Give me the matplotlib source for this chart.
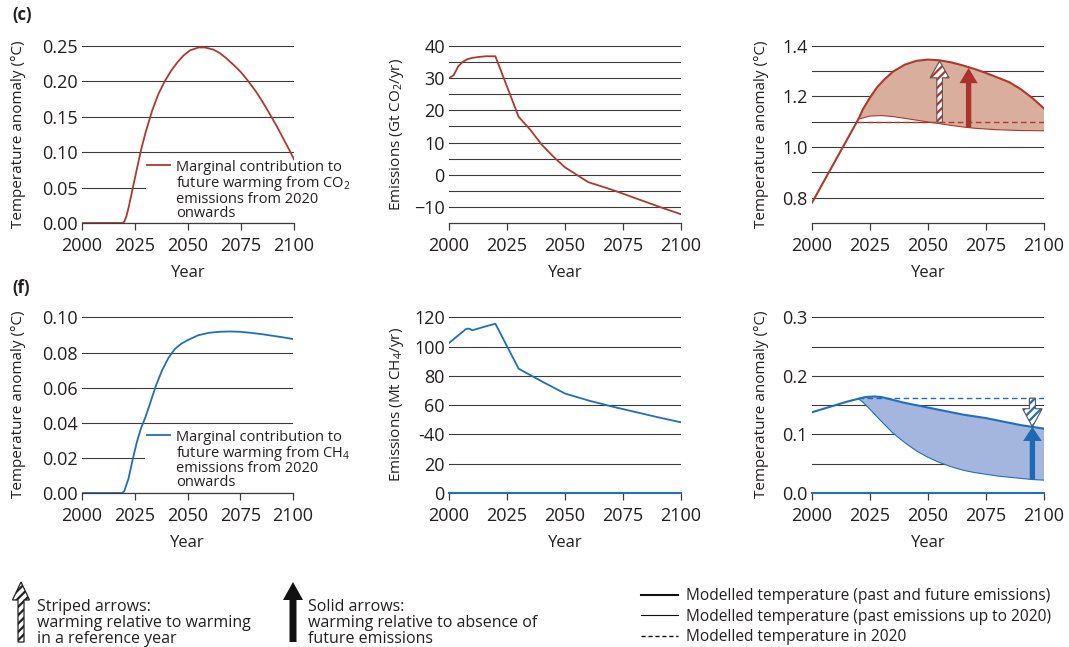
import numpy as np
import matplotlib
matplotlib.use('Agg')
import matplotlib.pyplot as plt
from matplotlib.patches import FancyArrow
from matplotlib.lines import Line2D

plt.rcParams['font.family'] = ['Open Sans', 'DejaVu Sans']
plt.rcParams['mathtext.default'] = 'regular'
plt.rcParams['hatch.linewidth'] = 1.6

# ---- data ----
year_ticks = [2000, 2025, 2050, 2075, 2100]

# (c) CO2
co2_marg_years = [2000, 2019, 2020, 2021, 2022, 2024, 2026, 2028, 2030, 2033, 2036, 2039, 2042,
                  2045, 2048, 2051, 2055, 2058, 2062, 2065, 2068, 2072, 2075, 2078, 2082, 2085,
                  2088, 2092, 2095, 2098, 2100]
co2_marg = [0, 0, 0.002, 0.01, 0.022, 0.05, 0.078, 0.105, 0.128, 0.158, 0.182, 0.200, 0.215,
            0.227, 0.237, 0.244, 0.248, 0.248, 0.245, 0.24, 0.233, 0.222, 0.213, 0.202, 0.186,
            0.172, 0.157, 0.136, 0.119, 0.102, 0.09]

co2_em_years = [2000, 2002, 2003, 2004, 2006, 2008, 2010, 2013, 2016, 2020,
                2030, 2035, 2040, 2045, 2050, 2055, 2060, 2070, 2080, 2090, 2100]
co2_em = [30, 30.9, 32.3, 33.7, 35.1, 35.9, 36.3, 36.6, 36.8, 36.8,
          18, 14, 9.3, 5.6, 2.3, 0, -2.3, -4.6, -7.2, -9.8, -12.3]

co2_temp_years = [2000, 2020, 2022, 2025, 2028, 2031, 2035, 2040, 2045, 2050, 2055, 2060,
                  2065, 2070, 2075, 2080, 2085, 2090, 2095, 2100]
co2_temp_all = [0.78, 1.11, 1.15, 1.195, 1.235, 1.265, 1.298, 1.325, 1.34, 1.345, 1.342, 1.334,
                1.322, 1.308, 1.292, 1.274, 1.256, 1.228, 1.193, 1.152]
co2_past_years = [2020, 2025, 2030, 2035, 2040, 2045, 2050, 2055, 2060, 2065, 2070, 2080, 2090, 2100]
co2_temp_past = [1.11, 1.122, 1.124, 1.12, 1.113, 1.106, 1.099, 1.092, 1.085, 1.079, 1.074,
                 1.068, 1.065, 1.064]
co2_temp_2020 = 1.098

# (f) CH4
ch4_marg_years = [2000, 2019, 2020, 2022, 2024, 2026, 2028, 2030, 2032, 2035, 2038, 2041, 2044,
                  2047, 2050, 2055, 2060, 2065, 2070, 2075, 2080, 2085, 2090, 2095, 2100]
ch4_marg = [0, 0, 0.001, 0.008, 0.019, 0.029, 0.037, 0.043, 0.05, 0.061, 0.07, 0.077, 0.082,
            0.085, 0.087, 0.0898, 0.0912, 0.0918, 0.092, 0.0918, 0.0912, 0.0905, 0.0896, 0.0887, 0.0877]

ch4_em_years = [2000, 2003, 2006, 2007, 2008, 2009, 2010, 2013, 2016, 2020,
                2030, 2040, 2050, 2060, 2070, 2080, 2090, 2100]
ch4_em = [102.5, 106.5, 110.3, 111.8, 112.4, 112.2, 111.2, 112.6, 114.0, 115.7,
          85, 76.3, 68, 63.3, 59.2, 55.5, 51.8, 48.3]
ch4_em_labels = ['0', '20', '-40', '60', '80', '100', '120']

ch4_temp_years = [2000, 2005, 2010, 2015, 2020, 2023, 2027, 2030, 2035, 2040, 2045, 2050, 2055,
                  2060, 2065, 2070, 2075, 2080, 2085, 2090, 2095, 2100]
ch4_temp_all = [0.138, 0.144, 0.15, 0.156, 0.161, 0.164, 0.165, 0.164, 0.159, 0.154, 0.15, 0.146,
                0.142, 0.138, 0.134, 0.131, 0.128, 0.124, 0.12, 0.116, 0.113, 0.110]
ch4_past_years = [2020, 2022, 2025, 2030, 2035, 2040, 2045, 2050, 2055, 2060, 2065, 2070, 2075,
                  2080, 2085, 2090, 2095, 2100]
ch4_temp_past = [0.161, 0.155, 0.143, 0.122, 0.102, 0.086, 0.072, 0.061, 0.052, 0.045, 0.039,
                 0.035, 0.032, 0.029, 0.027, 0.025, 0.023, 0.022]
ch4_temp_2020 = 0.162

# ---- style ----
RED = '#b0382d'
RED_FILL = '#d9ae9d'
RED_ARROW = '#a9332a'
BLUE = '#1e6fbe'
BLUE_FILL = '#a5b6de'
BLUE_ARROW = '#1c6ab5'
GRID = '#3c3c3c'
TXT = '#231f20'
W, H = 1069, 647

fig = plt.figure(figsize=(W / 100, H / 100), dpi=100)


def px_axes(x0, x1, ytop, ybot):
    return fig.add_axes([x0 / W, 1 - ybot / H, (x1 - x0) / W, (ybot - ytop) / H])


def style(ax, ylim, major, minor=None, labels=None, ylabel='', lab_x=-0.185):
    ax.set_xlim(2000, 2100)
    ax.set_ylim(*ylim)
    ax.set_xticks(year_ticks)
    ax.set_yticks(major)
    if labels is not None:
        ax.set_yticklabels(labels)
    if minor is not None:
        ax.set_yticks(minor, minor=True)
    ax.grid(axis='y', which='both', color=GRID, lw=0.8)
    ax.set_axisbelow(True)
    for s in ['left', 'right', 'top']:
        ax.spines[s].set_visible(False)
    ax.spines['bottom'].set_color(GRID)
    ax.spines['bottom'].set_linewidth(0.9)
    ax.spines['bottom'].set_zorder(6)
    ax.tick_params(axis='y', which='both', length=0, pad=3, labelsize=13, labelcolor=TXT)
    ax.tick_params(axis='x', length=5, width=0.9, pad=5, labelsize=13, color=GRID, labelcolor=TXT)
    ax.set_xlabel('Year', fontsize=12, labelpad=7, color=TXT)
    ax.set_ylabel(ylabel, fontsize=11, color=TXT)
    ax.yaxis.set_label_coords(lab_x, 0.5)


def solid_arrow(ax, x, y0, y1, w, hw, hl, color):
    ax.add_patch(FancyArrow(x, y0, 0, y1 - y0, width=w, head_width=hw, head_length=hl,
                            length_includes_head=True, color=color, lw=0, zorder=4))


def striped_arrow(ax, x, y0, y1, w, hw, hl, color, edge):
    kw = dict(width=w, head_width=hw, head_length=hl, length_includes_head=True, zorder=4)
    ax.add_patch(FancyArrow(x, y0, 0, y1 - y0, facecolor='white', edgecolor=color,
                            hatch='////', lw=0, **kw))
    ax.add_patch(FancyArrow(x, y0, 0, y1 - y0, fill=False, edgecolor=edge, lw=0.8, **kw))


def marg_legend(ax, line, label, top):
    leg = ax.legend([line], [label], loc='upper left', bbox_to_anchor=(0.3, top),
                    fontsize=10.5, frameon=True, fancybox=False, edgecolor='none',
                    facecolor='white', framealpha=1, borderpad=0.1, handlelength=1.6,
                    handletextpad=0.4, borderaxespad=0)
    leg.set_zorder(2.4)
    for t in leg.get_texts():
        t.set_linespacing(0.9)
        t.set_color(TXT)
    try:
        for hp in leg._legend_handle_box.get_children():
            for c in hp.get_children():
                c.align = 'top'
    except AttributeError:
        pass


# overlay for bottom key (pixel coordinates)
key = fig.add_axes([0, 0, 1, 1])
key.set_xlim(0, W)
key.set_ylim(H, 0)
key.axis('off')

# ---- (c) row ----
ax = px_axes(82, 294, 45, 223)
style(ax, (0, 0.2515), [0, 0.05, 0.10, 0.15, 0.20, 0.25],
      labels=['0.00', '0.05', '0.10', '0.15', '0.20', '0.25'],
      ylabel='Temperature anomaly (°C)', lab_x=-0.264)
l, = ax.plot(co2_marg_years, co2_marg, color=RED, lw=1.3, zorder=3)
marg_legend(ax, l, 'Marginal contribution to\nfuture warming from CO$_2$\nemissions from 2020\nonwards',
            0.362)

ax = px_axes(449, 681, 45, 223)
style(ax, (-15, 40.3), np.arange(-10, 41, 10), minor=np.arange(-5, 36, 10),
      ylabel='Emissions (Gt CO$_2$/yr)')
ax.plot(co2_em_years, co2_em, color=RED, lw=1.3)

ax = px_axes(812, 1044, 45, 223)
style(ax, (0.7, 1.4025), [0.8, 1.0, 1.2, 1.4], minor=[0.9, 1.1, 1.3],
      labels=['0.8', '1.0', '1.2', '1.4'], ylabel='Temperature anomaly (°C)')
t_years = np.array(co2_temp_years)
t_all = np.array(co2_temp_all)
fut = t_years >= 2020
ax.fill(np.r_[t_years[fut], co2_past_years[::-1]], np.r_[t_all[fut], co2_temp_past[::-1]],
        color=RED_FILL, lw=0, zorder=2)
ax.plot(co2_past_years, co2_temp_past, color=RED, lw=0.8, zorder=3)
ax.plot([2020, 2100], [co2_temp_2020, co2_temp_2020], color=RED, lw=1, ls=(0, (4, 2.5)), zorder=3)
ax.plot(co2_temp_years, co2_temp_all, color=RED, lw=1.5, zorder=3)
xa = 2055
striped_arrow(ax, xa, co2_temp_2020, np.interp(xa, co2_temp_years, co2_temp_all) - 0.003,
              2.4, 8.2, 0.066, RED, '#555555')
xb = 2067.5
solid_arrow(ax, xb, np.interp(xb, co2_past_years, co2_temp_past),
            np.interp(xb, co2_temp_years, co2_temp_all) - 0.003, 2.3, 7.8, 0.06, RED_ARROW)

# ---- (f) row ----
ax = px_axes(82, 293, 316, 493)
style(ax, (0, 0.1008), [0, 0.02, 0.04, 0.06, 0.08, 0.10],
      labels=['0.00', '0.02', '0.04', '0.06', '0.08', '0.10'],
      ylabel='Temperature anomaly (°C)', lab_x=-0.266)
l, = ax.plot(ch4_marg_years, ch4_marg, color=BLUE, lw=1.3, zorder=3)
marg_legend(ax, l, 'Marginal contribution to\nfuture warming from CH$_4$\nemissions from 2020\nonwards',
            0.365)

ax = px_axes(449, 681, 316, 493)
style(ax, (0, 121), np.arange(0, 121, 20), labels=ch4_em_labels,
      ylabel='Emissions (Mt CH$_4$/yr)')
ax.spines['bottom'].set_color(BLUE)
ax.spines['bottom'].set_linewidth(1.5)
ax.plot(ch4_em_years, ch4_em, color=BLUE, lw=1.3)

ax = px_axes(812, 1044, 316, 493)
style(ax, (0, 0.3025), [0.0, 0.1, 0.2, 0.3], minor=[0.05, 0.15, 0.25],
      labels=['0.0', '0.1', '0.2', '0.3'], ylabel='Temperature anomaly (°C)')
ax.spines['bottom'].set_color(BLUE)
ax.spines['bottom'].set_linewidth(1.5)
t_years = np.array(ch4_temp_years)
t_all = np.array(ch4_temp_all)
fut = t_years >= 2020
ax.fill(np.r_[t_years[fut], ch4_past_years[::-1]], np.r_[t_all[fut], ch4_temp_past[::-1]],
        color=BLUE_FILL, lw=0, zorder=2)
ax.plot(ch4_past_years, ch4_temp_past, color=BLUE, lw=0.8, zorder=3)
ax.plot([2020, 2100], [ch4_temp_2020, ch4_temp_2020], color=BLUE, lw=1, ls=(0, (4, 2.5)), zorder=3)
ax.plot(ch4_temp_years, ch4_temp_all, color=BLUE, lw=1.5, zorder=3)
xc = 2095
top_c = np.interp(xc, ch4_temp_years, ch4_temp_all)
striped_arrow(ax, xc, ch4_temp_2020, top_c, 2.6, 8.4, 0.031, BLUE, '#555555')
solid_arrow(ax, xc, np.interp(xc, ch4_past_years, ch4_temp_past), top_c, 2.3, 8.0, 0.024, BLUE_ARROW)

# ---- panel letters ----
fig.text(12 / W, 1 - 15 / H, '(c)', fontsize=12, fontweight='bold', va='center', color=TXT)
fig.text(12 / W, 1 - 288 / H, '(f)', fontsize=12, fontweight='bold', va='center', color=TXT)

# ---- bottom key ----
kw = dict(width=6, head_width=17, head_length=18, length_includes_head=True)
key.add_patch(FancyArrow(21, 642, 0, -60, facecolor='white', edgecolor='#222222',
                         hatch='////', lw=0, **kw))
key.add_patch(FancyArrow(21, 642, 0, -60, fill=False, edgecolor='#222222', lw=0.9, **kw))
key.text(37, 623, 'Striped arrows:\nwarming relative to warming\nin a reference year',
         fontsize=11.5, va='center', linespacing=0.98, color=TXT)
key.add_patch(FancyArrow(293, 642, 0, -60, width=7, head_width=20, head_length=18,
                         length_includes_head=True, color='#111111', lw=0))
key.text(308, 623, 'Solid arrows:\nwarming relative to absence of\nfuture emissions',
         fontsize=11.5, va='center', linespacing=0.98, color=TXT)

handles = [Line2D([], [], color='#111111', lw=1.5),
           Line2D([], [], color='#111111', lw=0.8),
           Line2D([], [], color='#111111', lw=1, ls=(0, (3, 2)))]
labels = ['Modelled temperature (past and future emissions)',
          'Modelled temperature (past emissions up to 2020)',
          'Modelled temperature in 2020']
leg = fig.legend(handles, labels, loc='upper left', bbox_to_anchor=(641 / W, 1 - 588 / H),
                 frameon=False, fontsize=11.2, handlelength=2.4, handletextpad=0.5,
                 labelspacing=0.3, borderpad=0, borderaxespad=0)
for t in leg.get_texts():
    t.set_color(TXT)

fig.savefig('out.png', dpi=100)
